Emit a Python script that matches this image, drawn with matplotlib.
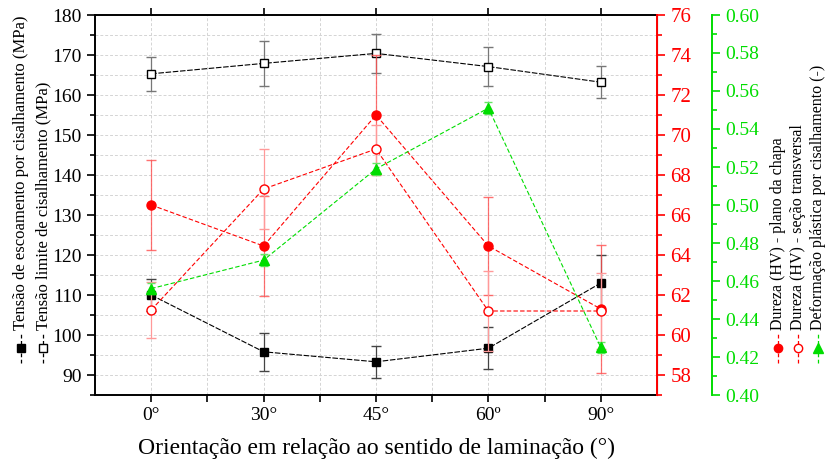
import numpy as np
import matplotlib
matplotlib.use("Agg")
from matplotlib import pyplot as plt
from matplotlib.lines import Line2D
from matplotlib.ticker import MultipleLocator

plt.rcParams['font.family'] = ['Liberation Serif', 'DejaVu Serif']

# data
orient = ["0°", "30°", "45°", "60º", "90°"]
escoamento = [110.0, 95.8, 93.3, 96.7, 113.0]
escoamento_err = [4.0, 4.8, 4.0, 5.2, 7.0]
limite = [165.3, 167.9, 170.4, 167.1, 163.2]
limite_err = [4.2, 5.6, 4.8, 4.8, 4.0]
dureza_chapa = [66.5, 64.45, 71.0, 64.45, 61.3]
dureza_chapa_err = [2.25, 2.5, 3.0, 2.45, 3.2]
dureza_transv = [61.25, 67.3, 69.3, 61.2, 61.2]
dureza_transv_err = [1.4, 2.0, 1.2, 2.0, 1.9]
deformacao = [0.456, 0.471, 0.519, 0.551, 0.425]
deformacao_err = [0.003, 0.003, 0.003, 0.003, 0.003]

RED = '#ff0000'
GREEN = '#00dd00'
W, H = 826, 463

x = np.arange(len(orient))

fig = plt.figure(figsize=(8.26, 4.63), dpi=100)
ax = fig.add_axes([95 / W, 1 - 395 / H, 562 / W, 380 / H])
ax2 = ax.twinx()
ax3 = ax.twinx()

# left axis
ax.errorbar(x, escoamento, yerr=escoamento_err, color='black', ls='--', lw=0.8,
            marker='s', ms=5.5, mfc='black', mec='black', ecolor='#444444',
            elinewidth=0.9, capsize=3.5, dashes=(5, 1.5), zorder=3)
ax.errorbar(x, limite, yerr=limite_err, color='black', ls='--', lw=0.8,
            marker='s', ms=5.5, mfc='white', mec='black', ecolor='#777777',
            elinewidth=0.9, capsize=3.5, dashes=(5, 1.5), zorder=3)
ax.set_xlim(-0.5, 4.5)
ax.set_ylim(85, 180)
ax.yaxis.set_major_locator(MultipleLocator(10))
ax.yaxis.set_minor_locator(MultipleLocator(5))
ax.set_xticks(x)
ax.set_xticklabels(orient, fontsize=14)
ax.set_xticks(x[:-1] + 0.5, minor=True)
ax.tick_params(axis='y', which='both', direction='out', labelsize=14, width=1.2)
ax.tick_params(axis='y', which='major', length=6)
ax.tick_params(axis='y', which='minor', length=3.5)
ax.tick_params(axis='x', which='both', direction='out', top=True, width=1.2, length=5)
ax.tick_params(axis='x', which='minor', top=False)
ax.grid(True, which='both', color='#d4d4d4', ls=(0, (3, 2)), lw=0.7)
ax.set_axisbelow(True)
for s in ['left', 'top', 'bottom']:
    ax.spines[s].set_linewidth(1.4)
ax.set_xlabel("Orientação em relação ao sentido de laminação (°)", fontsize=17, labelpad=10)

# red axis
ax2.errorbar(x, dureza_chapa, yerr=dureza_chapa_err, color=RED, ls='--', lw=0.8,
             marker='o', ms=6.5, mfc=RED, mec=RED, ecolor=(1, 0.3, 0.3, 0.8),
             elinewidth=0.9, capsize=3.5, dashes=(4, 2), zorder=4)
ax2.errorbar(x, dureza_transv, yerr=dureza_transv_err, color=RED, ls='--', lw=0.8,
             marker='o', ms=6.5, mfc='white', mec=RED, ecolor=(1, 0.6, 0.6),
             elinewidth=0.9, capsize=3.5, dashes=(4, 2), zorder=4)
ax2.set_ylim(57, 76)
ax2.yaxis.set_major_locator(MultipleLocator(2))
ax2.yaxis.set_minor_locator(MultipleLocator(1))
ax2.tick_params(axis='y', which='both', colors=RED, labelsize=15, width=1.2)
ax2.tick_params(axis='y', which='major', length=6)
ax2.tick_params(axis='y', which='minor', length=3.5)
ax2.spines['right'].set_color(RED)
ax2.spines['right'].set_linewidth(1.4)

# green axis
ax3.spines['right'].set_position(('axes', 1 + 55 / 562))
ax3.errorbar(x, deformacao, yerr=deformacao_err, color=GREEN, ls='--', lw=0.8,
             marker='^', ms=7.5, mfc=GREEN, mec=GREEN, ecolor=(0.4, 0.9, 0.4),
             elinewidth=0.9, capsize=3, dashes=(4, 2), zorder=5)
ax3.set_ylim(0.40, 0.60)
ax3.yaxis.set_major_locator(MultipleLocator(0.02))
ax3.yaxis.set_minor_locator(MultipleLocator(0.01))
ax3.yaxis.set_major_formatter(matplotlib.ticker.FormatStrFormatter('%.2f'))
ax3.tick_params(axis='y', which='both', colors=GREEN, labelsize=14, width=1.2)
ax3.tick_params(axis='y', which='major', length=6)
ax3.tick_params(axis='y', which='minor', length=3.5)
ax3.spines['right'].set_color(GREEN)
ax3.spines['right'].set_linewidth(1.4)
for s in ['left', 'top', 'bottom']:
    ax3.spines[s].set_visible(False)
    ax2.spines[s].set_visible(False)


# legend-like rotated labels
def side_label(px, text, color, mfc, marker, ms, fs):
    y0, y1 = 363, 333
    fig.add_artist(Line2D([px / W, px / W], [1 - y0 / H, 1 - y1 / H], transform=fig.transFigure,
                          color=color, ls='--', lw=0.9, dashes=(3, 2)))
    fig.add_artist(Line2D([px / W], [1 - (y0 + y1) / 2 / H], transform=fig.transFigure,
                          marker=marker, ms=ms, mfc=mfc, mec=color, color=color, ls='none'))
    fig.text(px / W, 1 - 330 / H, text, rotation=90, ha='center', va='bottom', fontsize=fs)


side_label(21, "Tensão de escoamento por cisalhamento (MPa)", 'black', 'black', 's', 5.5, 12)
side_label(43, "Tensão limite de cisalhamento (MPa)", 'black', 'white', 's', 5.5, 12)
side_label(778, "Dureza (HV) - plano da chapa", RED, RED, 'o', 6, 11.5)
side_label(798, "Dureza (HV) - seção transversal", RED, 'white', 'o', 6, 11.5)
side_label(818, "Deformação plástica por cisalhamento (-)", GREEN, GREEN, '^', 6.5, 11.5)

plt.savefig("out.png", dpi=100)
